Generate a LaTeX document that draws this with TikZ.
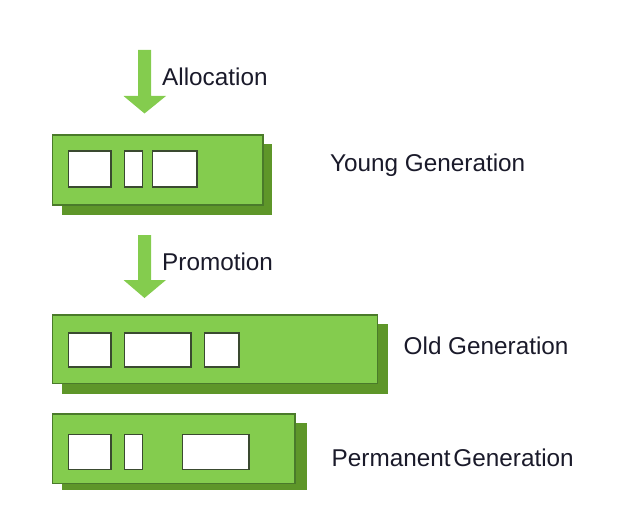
\documentclass[tikz,border=0pt]{standalone}
\usepackage{fontspec}
\setmainfont{Liberation Sans}
\definecolor{gfill}{HTML}{84CC4E}
\definecolor{gshadow}{HTML}{5E9629}
\definecolor{gborder}{HTML}{4A7A2A}
\definecolor{slotborder}{HTML}{3A4A30}
\definecolor{txt}{HTML}{1A1A2A}
\begin{document}
\begin{tikzpicture}[x=1pt,y=-1pt,
  genbox/.style={draw=gborder,line width=1.2pt,fill=gfill},
  genshadow/.style={fill=gshadow},
  slot/.style={draw=slotborder,line width=1.3pt,fill=white},
  lbl/.style={font=\fontsize{24.3}{28}\selectfont,text=txt,inner sep=0pt,anchor=west},
  bigarrow/.style={fill=gfill}]
\useasboundingbox (0,0) rectangle (618,516);
% Young generation
\fill[genshadow] (62,144) rectangle (272,215);
\draw[genbox] (52.5,135) rectangle (263,205);
\draw[slot] (68.5,151) rectangle (111,187);
\draw[slot] (124.5,151) rectangle (142.5,187);
\draw[slot] (152.5,151) rectangle (197,187);
\node[lbl] (youngl) at (330,165) {Young Generation};
% Allocation arrow
\fill[bigarrow] (138,50) -- (151,50) -- (151,96) -- (166,96) -- (144.5,113.5) -- (123.5,96) -- (138,96) -- cycle;
\node[lbl] (alloc) at (162,77) {Allocation};
% Promotion arrow
\fill[bigarrow] (138,235) -- (151,235) -- (151,280) -- (166,280) -- (144.5,298) -- (123.5,280) -- (138,280) -- cycle;
\node[lbl] (promo) at (162,262) {Promotion};
% Old generation
\fill[genshadow] (62,324) rectangle (388,394);
\draw[genbox] (52.5,315) rectangle (377.5,383.5);
\draw[slot] (68.5,333) rectangle (111,367);
\draw[slot] (124.5,333) rectangle (191,367);
\draw[slot] (204.5,333) rectangle (239,367);
\node[lbl] (oldl) at (403.5,345.5) {Old Generation};
% Permanent generation
\fill[genshadow] (62,423) rectangle (307,490);
\draw[genbox] (52.5,414) rectangle (295,483.5);
\draw[slot] (68.5,434.5) rectangle (111,469.5);
\draw[slot] (124.5,434.5) rectangle (142.5,469.5);
\draw[slot] (182.5,434.5) rectangle (249,469.5);
\node[lbl] (perml) at (331.5,458) {Permanent\hspace{0.12em}Generation};
\end{tikzpicture}
\end{document}
